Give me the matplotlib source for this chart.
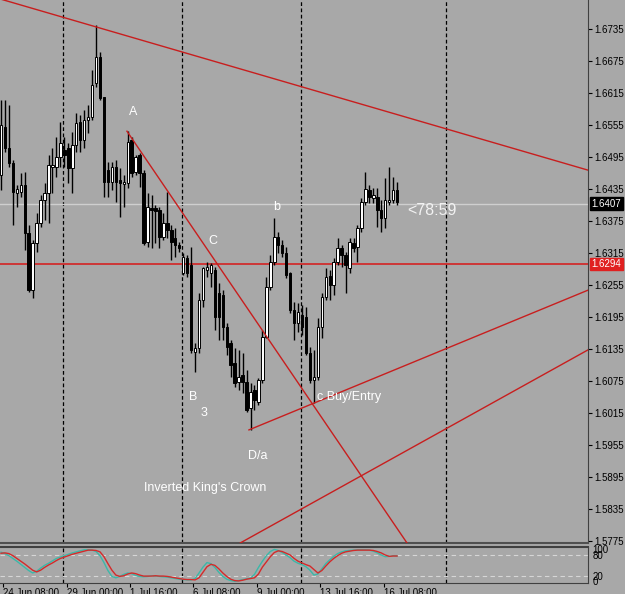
import matplotlib.pyplot as plt
from matplotlib.transforms import blended_transform_factory
import numpy as np

plt.rcParams["font.family"] = ["Liberation Sans", "DejaVu Sans"]

# -------------------------
# Data (4H candles, GBP-like quotes)
# -------------------------
opens = [1.6461, 1.6551, 1.6512, 1.6483, 1.6427, 1.6429, 1.6442, 1.6352, 1.6245, 1.6333,
         1.6371, 1.6414, 1.6427, 1.6476, 1.6476, 1.6495, 1.6508, 1.6512, 1.6474, 1.6517,
         1.6560, 1.6526, 1.6564, 1.6570, 1.6633, 1.6682, 1.6607, 1.6470, 1.6448, 1.6476,
         1.6451, 1.6444, 1.6446, 1.6526, 1.6467, 1.6498, 1.6465, 1.6335, 1.6399, 1.6399,
         1.6395, 1.6345, 1.6371, 1.6358, 1.6343, 1.6330, 1.6277, 1.6305, 1.6292, 1.6129,
         1.6137, 1.6227, 1.6283, 1.6277, 1.6283, 1.6240, 1.6236, 1.6176, 1.6146, 1.6108,
         1.6073, 1.6086, 1.6073, 1.6024, 1.6058, 1.6035, 1.6077, 1.6157, 1.6251, 1.6298,
         1.6345, 1.6330, 1.6315, 1.6277, 1.6208, 1.6183, 1.6198, 1.6195, 1.6127, 1.6077,
         1.6082, 1.6176, 1.6232, 1.6271, 1.6255, 1.6298, 1.6324, 1.6311, 1.6287, 1.6333,
         1.6326, 1.6361, 1.6410, 1.6433, 1.6418, 1.6420, 1.6395, 1.6380, 1.6410, 1.6414,
         1.6433]
highs = [1.6602, 1.6602, 1.6592, 1.6489, 1.6442, 1.6465, 1.6467, 1.6367, 1.6339, 1.6390,
         1.6423, 1.6446, 1.6498, 1.6512, 1.6532, 1.6560, 1.6532, 1.6521, 1.6541, 1.6577,
         1.6573, 1.6583, 1.6592, 1.6658, 1.6742, 1.6692, 1.6607, 1.6485, 1.6485, 1.6489,
         1.6474, 1.6461, 1.6543, 1.6532, 1.6498, 1.6502, 1.6470, 1.6427, 1.6423, 1.6405,
         1.6401, 1.6390, 1.6429, 1.6367, 1.6361, 1.6335, 1.6315, 1.6311, 1.6326, 1.6146,
         1.6240, 1.6288, 1.6298, 1.6296, 1.6288, 1.6258, 1.6245, 1.6183, 1.6152, 1.6137,
         1.6133, 1.6127, 1.6095, 1.6071, 1.6067, 1.6080, 1.6170, 1.6270, 1.6311, 1.6380,
         1.6354, 1.6339, 1.6326, 1.6279, 1.6223, 1.6221, 1.6217, 1.6213, 1.6138, 1.6133,
         1.6193, 1.6240, 1.6287, 1.6283, 1.6305, 1.6343, 1.6330, 1.6316, 1.6343, 1.6343,
         1.6367, 1.6418, 1.6467, 1.6442, 1.6437, 1.6437, 1.6414, 1.6455, 1.6476, 1.6457,
         1.6448]
lows = [1.6433, 1.6504, 1.6476, 1.6367, 1.6401, 1.6420, 1.6320, 1.6241, 1.6230, 1.6316,
        1.6363, 1.6377, 1.6371, 1.6427, 1.6457, 1.6476, 1.6476, 1.6446, 1.6427, 1.6504,
        1.6504, 1.6512, 1.6540, 1.6564, 1.6626, 1.6602, 1.6420, 1.6420, 1.6433, 1.6410,
        1.6382, 1.6401, 1.6437, 1.6457, 1.6461, 1.6438, 1.6330, 1.6326, 1.6324, 1.6333,
        1.6324, 1.6339, 1.6343, 1.6301, 1.6307, 1.6316, 1.6273, 1.6270, 1.6127, 1.6091,
        1.6127, 1.6213, 1.6270, 1.6251, 1.6170, 1.6152, 1.6152, 1.6123, 1.6082, 1.6063,
        1.6058, 1.6052, 1.6017, 1.5983, 1.6020, 1.6030, 1.6071, 1.6155, 1.6245, 1.6292,
        1.6315, 1.6307, 1.6268, 1.6202, 1.6152, 1.6167, 1.6161, 1.6123, 1.6071, 1.6033,
        1.6077, 1.6155, 1.6227, 1.6227, 1.6236, 1.6292, 1.6288, 1.6240, 1.6277, 1.6316,
        1.6298, 1.6354, 1.6405, 1.6408, 1.6408, 1.6363, 1.6354, 1.6361, 1.6405, 1.6408,
        1.6405]
closes = [1.6555, 1.6512, 1.6483, 1.6429, 1.6435, 1.6442, 1.6352, 1.6245, 1.6333, 1.6371,
          1.6414, 1.6427, 1.6480, 1.6480, 1.6495, 1.6521, 1.6498, 1.6474, 1.6517, 1.6558,
          1.6526, 1.6564, 1.6570, 1.6630, 1.6682, 1.6605, 1.6448, 1.6448, 1.6476, 1.6448,
          1.6446, 1.6448, 1.6523, 1.6465, 1.6495, 1.6465, 1.6333, 1.6401, 1.6395, 1.6393,
          1.6345, 1.6371, 1.6358, 1.6335, 1.6330, 1.6324, 1.6307, 1.6277, 1.6133, 1.6137,
          1.6227, 1.6287, 1.6288, 1.6292, 1.6195, 1.6195, 1.6176, 1.6138, 1.6105, 1.6071,
          1.6082, 1.6073, 1.6020, 1.6054, 1.6039, 1.6077, 1.6157, 1.6251, 1.6298, 1.6345,
          1.6330, 1.6315, 1.6273, 1.6208, 1.6183, 1.6204, 1.6176, 1.6127, 1.6077, 1.6082,
          1.6176, 1.6232, 1.6270, 1.6255, 1.6298, 1.6324, 1.6311, 1.6292, 1.6335, 1.6324,
          1.6361, 1.6410, 1.6435, 1.6420, 1.6423, 1.6395, 1.6380, 1.6414, 1.6414, 1.6433,
          1.6410]

# stochastic oscillator (main = teal, signal = red)
stoch_main = [88, 84, 78, 70, 62, 53, 44, 35, 28, 33, 42, 50, 56, 63, 70, 74, 78, 82, 86, 89,
              92, 95, 95, 94, 90, 78, 58, 35, 18, 14, 18, 24, 28, 26, 21, 18, 17, 18, 20, 19,
              18, 17, 16, 14, 12, 10, 9, 8, 8, 12, 28, 45, 58, 55, 44, 30, 18, 10, 6, 4,
              6, 9, 11, 13, 24, 44, 62, 78, 90, 96, 93, 87, 80, 72, 62, 56, 52, 46, 36, 22,
              25, 40, 55, 66, 76, 84, 89, 92, 93, 94, 95, 95, 95, 94, 91, 86, 80, 75, 76, 78,
              77]
stoch_signal = [85, 86, 84, 78, 70, 62, 54, 45, 36, 31, 36, 44, 51, 57, 64, 70, 74, 78, 82, 85,
                88, 91, 94, 94, 93, 89, 75, 55, 36, 22, 18, 20, 25, 28, 26, 22, 19, 19, 19, 20,
                19, 19, 18, 16, 14, 12, 10, 9, 9, 8, 14, 30, 46, 53, 50, 40, 28, 18, 10, 6,
                5, 7, 10, 12, 14, 25, 45, 60, 75, 87, 92, 90, 85, 80, 70, 62, 57, 52, 48, 38,
                28, 35, 48, 60, 70, 78, 85, 89, 91, 93, 94, 94, 94, 94, 93, 90, 86, 80, 76, 77,
                77]

price_ticks = [1.6735, 1.6675, 1.6615, 1.6555, 1.6495, 1.6435, 1.6375, 1.6315, 1.6255,
               1.6195, 1.6135, 1.6075, 1.6015, 1.5955, 1.5895, 1.5835, 1.5775]
time_labels = ["24 Jun 08:00", "29 Jun 00:00", "1 Jul 16:00", "6 Jul 08:00",
               "9 Jul 00:00", "13 Jul 16:00", "16 Jul 08:00"]
label_bars = [0, 16, 32, 48, 64, 80, 96]
separator_bars = [15.66, 45.7, 75.76, 112.4]
last_price = 1.6407
level_price = 1.6294

# drawn trendlines: (bar, price) end points
trend_top = [(-0.25, 1.6791), (148.2, 1.6470)]
trend_a = [(31.8, 1.6543), (102.5, 1.5771)]
trend_d = [(62.6, 1.5983), (148.2, 1.6245)]
trend_low = [(60.4, 1.5771), (148.2, 1.6133)]

# -------------------------
# Plot
# -------------------------
bg = "#A8A8A8"
red = "#C81E1E"
fs = 7.0
fig = plt.figure(figsize=(6.25, 5.94), dpi=100, facecolor=bg)
ax = fig.add_axes([0, 0.0859, 0.9408, 0.9141], facecolor=bg)
ax2 = fig.add_axes([0, 0.0185, 0.9408, 0.0606], facecolor=bg)

o = np.array(opens)
h = np.array(highs)
l = np.array(lows)
c = np.array(closes)
x = np.arange(len(o))
up = c >= o
bottom = np.minimum(o, c)
height = np.maximum(np.abs(c - o), 0.00005)

ax.vlines(x, l, h, color="black", lw=1, zorder=3)
ax.bar(x[up], height[up], bottom=bottom[up], width=0.62, color="white",
       edgecolor="black", lw=0.7, zorder=4)
ax.bar(x[~up], height[~up], bottom=bottom[~up], width=0.62, color="black",
       edgecolor="black", lw=0.7, zorder=4)

for b in separator_bars:
    ax.axvline(b, color="black", lw=0.9, ls=(0, (3, 2)), zorder=1)
    ax2.axvline(b, color="black", lw=0.9, ls=(0, (3, 2)), zorder=1)

ax.axhline(last_price, color="#CFCFCF", lw=1, zorder=2)
ax.axhline(level_price, color="#D81818", lw=1.1, zorder=2)
for line in [trend_top, trend_a, trend_d, trend_low]:
    (x0, y0), (x1, y1) = line
    ax.plot([x0, x1], [y0, y1], color=red, lw=1, zorder=5)

# annotations
tkw = dict(color="white", fontsize=9, zorder=6)
ax.text(33.3, 1.6579, "A", ha="center", va="center", **tkw)
ax.text(53.5, 1.6337, "C", ha="center", va="center", **tkw)
ax.text(69.7, 1.6401, "b", ha="center", va="center", **tkw)
ax.text(48.5, 1.6045, "B", ha="center", va="center", **tkw)
ax.text(51.3, 1.6015, "3", ha="center", va="center", **tkw)
ax.text(79.8, 1.6045, "c Buy/Entry", ha="left", va="center", **tkw)
ax.text(64.7, 1.5934, "D/a", ha="center", va="center", **tkw)
ax.text(51.5, 1.5874, "Inverted King's Crown", ha="center", va="center", **tkw)
ax.text(102.5, 1.6395, "<78:59", ha="left", va="center", color="#F2F2F2",
        fontsize=11.5, zorder=6)

ax.set_xlim(-0.25, 148.2)
ax.set_ylim(1.5771, 1.6789)
ax.set_xticks([])
ax.yaxis.tick_right()
ax.set_yticks(price_ticks)
ax.set_yticklabels([f"{p:.4f}" for p in price_ticks])
ax.tick_params(axis="y", direction="out", length=3, pad=1.5, labelsize=fs,
               colors="black")
for s in ["top", "left"]:
    ax.spines[s].set_visible(False)
ax.spines["right"].set_color("#404040")
ax.spines["bottom"].set_color("#505050")
ax.spines["bottom"].set_linewidth(1.5)

trans = blended_transform_factory(ax.transAxes, ax.transData)
ax.text(1.006, last_price, f"{last_price:.4f}", transform=trans, color="white",
        fontsize=fs, va="center", ha="left", clip_on=False, zorder=10,
        bbox=dict(boxstyle="square,pad=0.15", fc="black", ec="black"))
ax.text(1.006, level_price, f"{level_price:.4f}", transform=trans, color="white",
        fontsize=fs, va="center", ha="left", clip_on=False, zorder=10,
        bbox=dict(boxstyle="square,pad=0.15", fc="#E02020", ec="#E02020"))

# stochastic panel
xs = np.arange(len(stoch_main))
ax2.axhline(80, color="#D6D6D6", lw=0.8, ls=(0, (4, 3)))
ax2.axhline(20, color="#D6D6D6", lw=0.8, ls=(0, (4, 3)))
ax2.plot(xs, stoch_main, color="#3BB8A8", lw=1)
ax2.plot(xs, stoch_signal, color="#D42A2A", lw=1)
ax2.set_xlim(-0.25, 148.2)
ax2.set_ylim(-1, 103)
ax2.yaxis.tick_right()
ax2.set_yticks([96, 80, 20, 4])
ax2.set_yticklabels(["100", "80", "20", "0"])
ax2.tick_params(axis="y", length=0, pad=3, labelsize=fs, colors="black")
ax2.set_xticks([b + 0.6 for b in label_bars])
ax2.set_xticklabels(time_labels, ha="left")
ax2.tick_params(axis="x", direction="out", length=3, pad=0.5, labelsize=fs,
                colors="black")
ax2.spines["left"].set_visible(False)
for s in ["top", "bottom", "right"]:
    ax2.spines[s].set_color("#404040")
ax2.spines["top"].set_linewidth(1.5)

fig.savefig("out.png", dpi=100, facecolor=bg)
